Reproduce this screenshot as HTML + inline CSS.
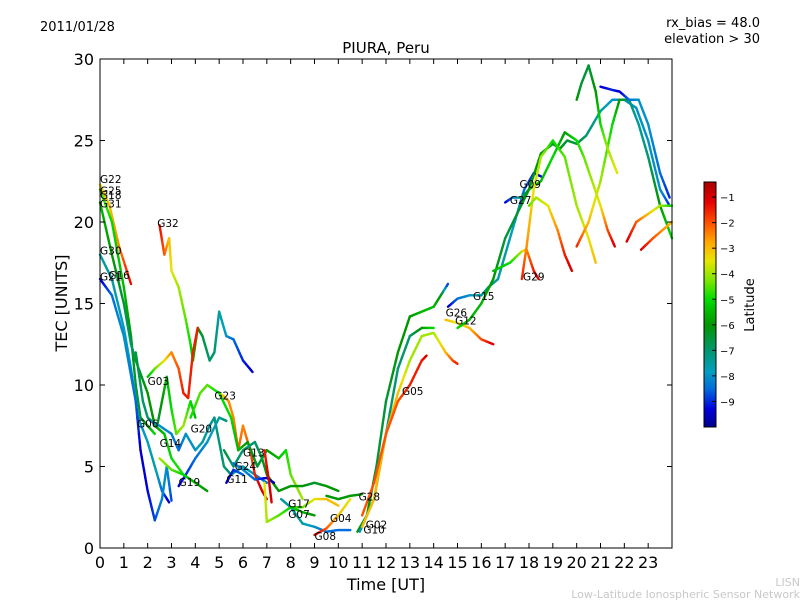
<!DOCTYPE html>
<html><head><meta charset="utf-8"><style>
body{margin:0;background:#fff;width:800px;height:600px;overflow:hidden}
svg text{font-family:"DejaVu Sans","Liberation Sans",sans-serif}
</style></head><body>
<svg id="c" width="800" height="600">
<text x="40" y="31" font-size="13">2011/01/28</text>
<text x="760" y="27" font-size="13" text-anchor="end">rx_bias = 48.0</text>
<text x="760" y="43" font-size="13" text-anchor="end">elevation &gt; 30</text>
<text x="386" y="53" font-size="15" text-anchor="middle">PIURA, Peru</text>
<text x="386" y="590" font-size="16" text-anchor="middle">Time [UT]</text>
<text x="67" y="303" font-size="16" text-anchor="middle" transform="rotate(-90 67 303)">TEC [UNITS]</text>
<text x="754" y="305" font-size="13" text-anchor="middle" transform="rotate(-90 754 305)">Latitude</text>
<text x="800" y="586" font-size="11" fill="#c8c8c8" text-anchor="end">LISN</text>
<text x="800" y="598" font-size="11" fill="#c8c8c8" text-anchor="end">Low-Latitude Ionospheric Sensor Network</text>
<g id="plot"></g>
</svg>
<script>
const xTicks=[0,1,2,3,4,5,6,7,8,9,10,11,12,13,14,15,16,17,18,19,20,21,22,23];
const yTicks=[0,5,10,15,20,25,30];
const cbTicks=[-1,-2,-3,-4,-5,-6,-7,-8,-9];
const trackNames=["G22","G25","G31","G30","G21","G32","G03","G06","G14a","G19","G14","G23","G20","G13","G24","G11","Gy","G17","G08","G04","G28","R1","R2","G05","R4","G26","G12","G15","G27","G29","G29b","G29c","Gd","Gr","Gpk","Gbl","Gl1","Gl2"];
const trackTimes=[
[0,0.4,0.8,1.3],
[0,0.5,1,1.3,1.5,1.7,2,2.3],
[0,0.5,1,1.3,1.5,2,2.3,2.7,3,3.5,4,4.5],
[0,0.5,1,1.3,1.6,2,2.3,2.6,2.9],
[0,0.5,1,1.5,1.7,2,2.3,2.6,2.8,3],
[2.5,2.7,2.9,3,3.3,3.6,3.8,3.9,4.1,4.3,4.6,4.8,5,5.3,5.6,6,6.4],
[2,2.3,2.7,3,3.3,3.5,3.7,3.9,4.1],
[1.5,1.8,2,2.4,2.8,3,3.2,3.5,3.8,4],
[2.1,2.5,3,3.3,3.6,4,4.3,4.6,4.8,5.2,5.5,6,6.5,7],
[3.3,3.6,4,4.5,5,5.3],
[2.5,3,3.5,4],
[5,5.2,5.4,5.6,5.8,6,6.3,6.5,6.8,7],
[3.8,4.2,4.5,5,5.5,5.8,6.2,6.6,7,7.5,7.8,8,8.5],
[5.2,5.6,6,6.5,6.8,7,7.5,8,8.5,9,9.5,10],
[5.6,6,6.5,7,7.3],
[5.3,5.6,6],
[6.9,7,7.5,8,8.5,9],
[7.6,8,8.5,9,9.5,10,10.5],
[9,9.5,10,10.5],
[8,8.5,9,9.5,10],
[9.5,10,10.5,11],
[10.8,11.2,11.6,12,12.5,13,13.5,14,14.3,14.6],
[10.9,11.5,12,12.5,13,13.5,14],
[11,11.5,12,12.5,13,13.5,14,14.5,14.8,15],
[11,11.5,12,12.5,13,13.5,13.7],
[14.6,15,15.5,16,16.3,16.7,17,17.5,17.8,18.2,18.5],
[14.5,15,15.5,16,16.5],
[15,15.5,16,16.5,17,17.5,18,18.5,19,19.3,19.6,20,20.4,21,21.5,22,22.5,23,23.5,23.9],
[17,17.3,17.7,18,18.5,19,19.5,20,20.3,21,21.3,21.6],
[17.7,17.9,18.2,18.5,19,19.5,20,20.5,20.8],
[16.5,17.2,17.7,17.9,18.2,18.4],
[18,18.3,18.8,19.2,19.5,19.8],
[20,20.5,21,21.5,21.8,22.2,22.6,23,23.5,24],
[20,20.2,20.5,20.8,21,21.3,21.7],
[21,21.5,21.8,22.2,22.6,23,23.5,23.9],
[22.1,22.5,23,23.5,24],
[22.7,23.2,23.6,24],
[6.9,7.1,7.2]
];
const trackTec=[
[22.3,21,18.5,16.2],
[22,20,16,13,10,8,7.5,7],
[21.2,18,15,12.5,11.5,9.5,7.5,7,5.5,4.5,4,3.5],
[18,16.5,13.5,11,8,6.5,5,3.5,2.8],
[16.5,15.5,13,9,6,3.5,1.7,3,5,2.9],
[19.8,18,19,17,16,14,12.5,11.5,13.5,13,11.5,12,14.5,13,12.8,11.5,10.8],
[10.5,11,11.5,12,11,9.5,9.2,12,13.5],
[12,9,8,7.5,10.5,8.5,7,7.5,9,8],
[7.8,7.5,7,6,7,6,6.5,7.5,8,5,4.5,5,4.5,4],
[3.8,4.5,5.5,6.5,8,7.8],
[5.5,4.8,4.5,4],
[9.5,9.3,9,8,6,7.5,6,4.5,3.5,3],
[8,9.5,10,9.5,8,6,6.5,5,6,5.5,6,4.5,3],
[6,5,6,6.5,5.5,4.5,3.5,3.8,3.8,4,3.8,3.5],
[5.2,4.8,4.2,4.3,4],
[4,4.8,4.5],
[4,1.6,2,2.5,2.2,2],
[3,2.5,1.5,1.3,1,1.1,1.1],
[0.8,1.2,2,3],
[2.5,2.5,3,3,2.6],
[3.2,3,3.2,3.3],
[1,2,5,9,12,14.2,14.5,14.8,15.5,16.2],
[1,3,7,11,13,13.5,13.5],
[1.3,3,7,9.5,11.5,13,13.2,12,11.5,11.3],
[2,4,7,9,10,11.5,11.8],
[14.8,15.3,15.5,15.5,16,16.5,18,20.5,22,23,22.8],
[14,13.8,13.5,12.8,12.5],
[13.5,14,15,16.5,19,20.5,22,24.2,24.8,24.5,25,24.8,25.3,26.8,27.5,27.5,27,25,22,21],
[21.2,21.5,21.5,22,22.5,24,25.5,25,24,21,19.5,18.5],
[16.5,18.5,22,24,25,24,21,19,17.5],
[17,17.5,18.2,18.3,17,16.5],
[21,21.5,21,19.5,18,17],
[18.5,20,22.5,26,27.5,27.5,26,24,21,19],
[27.5,28.5,29.6,28,26,24.5,23],
[28.3,28.1,28,27.5,27.5,26,23,21.5],
[18.8,20,20.5,21,21],
[18.3,19,19.5,20],
[6,4,2.8]
];
const trackLat=[
[-3.3,-3,-2.5,-1.2],
[-4.5,-5,-5.5,-6,-6.5,-6.5,-6,-5],
[-5.5,-6,-6.5,-7,-6.5,-6,-6,-5.5,-5,-4.8,-5.5,-6],
[-7.5,-7.5,-7.8,-8,-8,-7.8,-7.5,-8.5,-9.5],
[-9.5,-8.5,-8,-8.5,-9.5,-9.3,-8.8,-8.2,-8,-8.8],
[-1.3,-2,-3,-3.5,-4,-4.5,-5,-5.5,-6,-6.5,-7,-7,-7.5,-8,-8.5,-9,-9.5],
[-5.5,-4.5,-3.5,-2.5,-2,-1.5,-1.5,-1.5,-1.5],
[-6.5,-7,-7,-6.5,-5.5,-5,-4.5,-4,-5,-5.5],
[-8,-8,-8.2,-8.5,-8,-8,-7.5,-7.5,-7.2,-7,-7,-7.5,-8,-8.5],
[-9.5,-9,-8.5,-8,-7.5,-7],
[-4,-4.5,-5,-5.5],
[-3.5,-3,-2.5,-2.5,-2,-2.5,-2,-1.5,-1,-1],
[-5,-4.5,-4.5,-5,-5,-5.5,-6,-6.5,-6,-5.5,-5,-4.5,-4],
[-6.5,-7,-7,-7,-6.5,-6,-6,-6,-6,-6.5,-6,-6],
[-8.5,-8,-8.5,-9.5,-9.8],
[-9.5,-9,-8.5],
[-3.5,-4,-4.5,-5,-5.5,-6],
[-7.5,-7.5,-7.5,-8,-8.5,-8.5,-8.5],
[-1,-2,-3,-3.5],
[-5,-4.5,-3.5,-3,-3],
[-6,-6,-6,-6],
[-6,-6,-6.5,-6.5,-6,-6,-5.5,-5.5,-6,-9],
[-8,-7.5,-7,-7,-7,-6,-5],
[-3,-3,-3,-3,-4,-4,-4,-3,-2,-1.5],
[-2,-2,-2,-2,-1.5,-1.5,-1],
[-9.5,-8.5,-8,-7.5,-7,-7.5,-7.5,-8,-8.5,-9,-9.5],
[-3,-3.5,-3,-2,-1],
[-5,-5.5,-5.5,-6,-6.5,-6.5,-6,-6,-6.5,-6,-6.5,-6.5,-7,-7.5,-8,-8,-8,-8,-8,-9],
[-9.5,-8.5,-7,-6,-5.5,-5,-6,-5,-4.5,-3.5,-2,-1],
[-1.5,-2.5,-3.5,-4,-5,-4.5,-4,-3.5,-3],
[-5.5,-5,-4,-2.5,-1.5,-1],
[-4.5,-4,-3.5,-2.5,-1.5,-1],
[-1.5,-3,-4,-5,-6,-7,-7.5,-7,-6,-5],
[-6,-6.5,-6.5,-6,-5,-4,-3.5],
[-9.5,-9,-9.5,-8.5,-8,-8,-8.5,-9],
[-1,-2,-3,-4,-5],
[-1,-2,-2.5,-3],
[-1.5,-1,-1]
];
const labelText=["G22","G25","G18","G31","G30","G21","G16","G32","G03","G06","G14","G20","G23","G13","G24","G11","G19","G17","G07","G04","G08","G28","G02","G10","G05","G26","G12","G15","G29","G27","G09"];
const labelT=[0,0,0,0,0,0,0.35,2.4,2.0,1.55,2.5,3.8,4.8,6.0,5.65,5.3,3.3,7.9,7.9,9.65,9.0,10.85,11.15,11.05,12.67,14.5,14.9,15.65,17.75,17.2,17.6];
const labelTec=[22.4,21.7,21.4,20.9,18.0,16.4,16.5,19.7,10.0,7.4,6.2,7.1,9.1,5.6,4.8,4.0,3.8,2.5,1.85,1.6,0.5,2.9,1.2,0.9,9.4,14.2,13.7,15.2,16.4,21.1,22.1];

const L=100,R=672,T=59,B=548;
const xS=t=>L+(t/24)*(R-L);
const yS=v=>B-(v/30)*(B-T);
const cbT=182,cbB=427,cbMin=-10.0,cbMax=-0.41;
const cbS=v=>cbB-(v-cbMin)/(cbMax-cbMin)*(cbB-cbT);
const stopLat=[-10,-9.3,-8.5,-7.8,-7,-6,-5,-4.3,-3.5,-2.8,-2,-1.2,-0.41];
const stopRGB=[[0,0,140],[0,0,220],[0,110,220],[0,160,190],[0,150,110],[0,150,0],[0,220,0],[120,230,0],[230,230,0],[255,170,0],[255,80,0],[230,0,0],[170,0,0]];
function latC(lat){
 if(lat<=stopLat[0])return `rgb(${stopRGB[0].join(',')})`;
 for(let i=0;i<stopLat.length-1;i++){
  if(lat<=stopLat[i+1]){
   const f=(lat-stopLat[i])/(stopLat[i+1]-stopLat[i]);
   const c=stopRGB[i].map((v,k)=>Math.round(v+(stopRGB[i+1][k]-v)*f));
   return `rgb(${c.join(',')})`;
  }
 }
 return `rgb(${stopRGB[stopRGB.length-1].join(',')})`;
}
const NS="http://www.w3.org/2000/svg";
const g=document.getElementById('plot');
function mk(tag,attrs,parent){const e=document.createElementNS(NS,tag);for(const k in attrs)e.setAttribute(k,attrs[k]);(parent||g).appendChild(e);return e;}

trackNames.forEach((nm,i)=>{
 const tg=mk('g',{});
 
 
 const ts=trackTimes[i],vs=trackTec[i],ls=trackLat[i];
 for(let j=0;j<ts.length-1;j++){
  const n=6;
  for(let k=0;k<n;k++){
   const a=k/n,b=(k+1)/n;
   const t1=ts[j]+(ts[j+1]-ts[j])*a,t2=ts[j]+(ts[j+1]-ts[j])*b;
   const v1=vs[j]+(vs[j+1]-vs[j])*a,v2=vs[j]+(vs[j+1]-vs[j])*b;
   const la=ls[j]+(ls[j+1]-ls[j])*(a+b)/2;
   mk('line',{x1:xS(t1),y1:yS(v1),x2:xS(t2),y2:yS(v2),stroke:latC(la),'stroke-width':2.4,'stroke-linecap':'round'},tg);
  }
 }
});
labelText.forEach((s,i)=>{
 const e=mk('text',{x:xS(labelT[i]),y:yS(labelTec[i]),'font-size':10.5});
 e.textContent=s;
 
 
});
const fr=mk('rect',{x:L,y:T,width:R-L,height:B-T,fill:'none',stroke:'#000','stroke-width':1});


xTicks.forEach(t=>{
 const x=xS(t);
 mk('line',{x1:x,y1:B,x2:x,y2:B-5,stroke:'#000'});
 mk('line',{x1:x,y1:T,x2:x,y2:T+5,stroke:'#000'});
 const e=mk('text',{x:x,y:B+20,'font-size':16,'text-anchor':'middle'});
 e.textContent=t;
 
 
});
yTicks.forEach(v=>{
 const y=yS(v);
 mk('line',{x1:L,y1:y,x2:L+5,y2:y,stroke:'#000'});
 mk('line',{x1:R,y1:y,x2:R-5,y2:y,stroke:'#000'});
 const e=mk('text',{x:L-6,y:y+6,'font-size':16,'text-anchor':'end'});
 e.textContent=v;
 
 
});
const cb=mk('g',{});


for(let y=cbT;y<cbB;y++){
 const v=cbMin+(cbB-y-0.5)/(cbB-cbT)*(cbMax-cbMin);
 mk('rect',{x:704,y:y,width:12,height:1.2,fill:latC(v)},cb);
}
mk('rect',{x:704,y:cbT,width:12,height:cbB-cbT,fill:'none',stroke:'#000'},cb);
cbTicks.forEach(v=>{
 const y=cbS(v);
 mk('line',{x1:712,y1:y,x2:716,y2:y,stroke:'#000'},cb);
 const e=mk('text',{x:720,y:y+4,'font-size':10},cb);
 e.textContent='\u2212'+Math.abs(v);
 
 
});
</script>
</body></html>
